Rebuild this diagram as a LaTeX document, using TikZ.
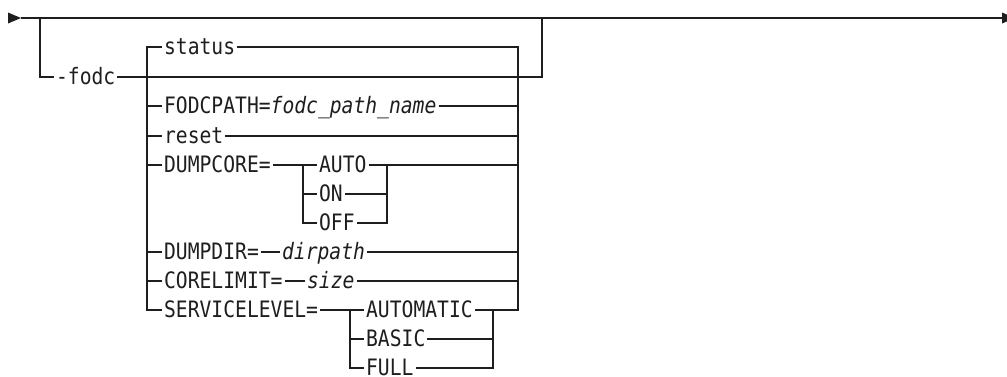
\documentclass[tikz,border=0pt]{standalone}
\usepackage{fontspec}
\setmonofont[FakeStretch=0.87]{DejaVu Sans Mono}
\definecolor{ink}{HTML}{1E1E1E}
\begin{document}
\begin{tikzpicture}[x=1pt,y=-1pt,line width=1.3pt,
  rail/.style={draw=ink},
  lbl/.style={anchor=west,inner xsep=1.5pt,inner ysep=0pt,text height=14.6pt,text depth=0pt,
    font=\ttfamily\fontsize{22.6}{23}\selectfont,text=ink},
  var/.style={lbl,font=\ttfamily\itshape\fontsize{22.6}{23}\selectfont}]
\useasboundingbox (0,0) rectangle (1007,376);
% main line
\coordinate (st) at (21,18);
\coordinate (en) at (1002,18);
\coordinate (b1) at (40,18);
\coordinate (b2) at (542,18);
\fill[ink] (8,12.5) -- (8,23.5) -- (st) -- cycle;
\begin{scope}
\clip (0,0) rectangle (1007,376);
\fill[ink] (1002,12.5) -- (1002,23.5) -- (1015,18) -- cycle;
\end{scope}
\draw[rail] (st) -- (en);
% nodes
\node[lbl] (fodc) at (54,77) {-fodc};
\node[lbl] (status) at (162,47) {status};
\node[lbl] (fodcpath) at (162,106) {FODCPATH=\textit{fodc\_path\_name}};
\node[lbl] (reset) at (162,136) {reset};
\node[lbl] (dumpcore) at (162,165) {DUMPCORE=};
\node[lbl] (auto) at (317,165) {AUTO};
\node[lbl] (on) at (317,194) {ON};
\node[lbl] (off) at (317,223) {OFF};
\node[lbl] (dumpdir) at (162,252) {DUMPDIR=};
\node[var] (dirpath) at (280,252) {dirpath};
\node[lbl] (corelimit) at (162,281) {CORELIMIT=};
\node[var] (size) at (305,281) {size};
\node[lbl] (svc) at (162,310) {SERVICELEVEL=};
\node[lbl] (automatic) at (364,310) {AUTOMATIC};
\node[lbl] (basic) at (364,339) {BASIC};
\node[lbl] (full) at (364,368) {FULL};
% rail coordinates
\coordinate (Lb) at (147,310);
\coordinate (Rb) at (518,310);
\coordinate (dL) at (303,165);
\coordinate (dR) at (387,165);
\coordinate (sL) at (350,310);
\coordinate (sR) at (493,310);
% optional group
\draw[rail] (b1) |- (fodc.west);
\draw[rail] (fodc.east) -| (b2);
% outer choice rails
\draw[rail] (status.west) -| (Lb) -- (svc.west);
\draw[rail] (status.east) -| (Rb) -- (sR);
% simple rows
\draw[rail] (fodcpath.west -| Lb) -- (fodcpath.west);
\draw[rail] (fodcpath.east) -- (fodcpath.east -| Rb);
\draw[rail] (reset.west -| Lb) -- (reset.west);
\draw[rail] (reset.east) -- (reset.east -| Rb);
\draw[rail] (dumpcore.west -| Lb) -- (dumpcore.west);
\draw[rail] (dumpdir.west -| Lb) -- (dumpdir.west);
\draw[rail] (dumpdir.east) -- (dirpath.west);
\draw[rail] (dirpath.east) -- (dirpath.east -| Rb);
\draw[rail] (corelimit.west -| Lb) -- (corelimit.west);
\draw[rail] (corelimit.east) -- (size.west);
\draw[rail] (size.east) -- (size.east -| Rb);
% DUMPCORE sub choice
\draw[rail] (dumpcore.east) -- (auto.west);
\draw[rail] (auto.west -| dL) |- (off.west);
\draw[rail] (on.west -| dL) -- (on.west);
\draw[rail] (auto.east) -- (auto.east -| Rb);
\draw[rail] (off.east) -| (dR);
\draw[rail] (on.east) -- (on.east -| dR);
% SERVICELEVEL sub choice
\draw[rail] (svc.east) -- (automatic.west);
\draw[rail] (automatic.west -| sL) |- (full.west);
\draw[rail] (basic.west -| sL) -- (basic.west);
\draw[rail] (automatic.east) -- (sR);
\draw[rail] (full.east) -| (sR);
\draw[rail] (basic.east) -- (basic.east -| sR);
\end{tikzpicture}
\end{document}
